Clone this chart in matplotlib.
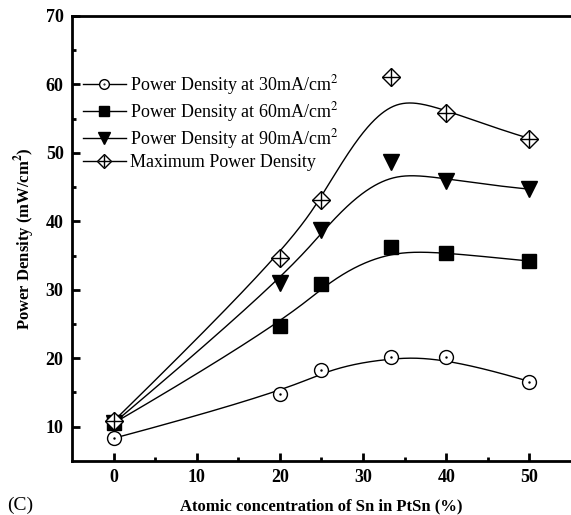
"""Power density vs Sn content in PtSn, panel (C)."""

import matplotlib

matplotlib.use("Agg")
import matplotlib.pyplot as plt
import numpy as np

SN_PCT = [0, 20, 25, 33.3, 40, 50]
PD_30 = [8.3, 14.8, 18.3, 20.2, 20.2, 16.6]
PD_60 = [10.5, 24.7, 30.8, 36.3, 35.4, 34.2]
PD_90 = [10.5, 31.0, 38.7, 48.7, 45.9, 44.7]
PD_MAX = [10.8, 34.6, 43.1, 61.1, 55.8, 52.1]

LABELS = [
    "Power Density at 30mA/cm$^2$",
    "Power Density at 60mA/cm$^2$",
    "Power Density at 90mA/cm$^2$",
    "Maximum Power Density",
]

plt.rcParams["font.family"] = ["Liberation Serif", "DejaVu Serif"]
plt.rcParams["mathtext.fontset"] = "stix"


def bspline(xs, ys, n=300, k=3):
    """Clamped uniform B-spline using the points as control points."""
    pts = np.column_stack([xs, ys]).astype(float)
    m = len(pts)
    inner = np.linspace(0, 1, m - k + 1)
    knots = np.concatenate([[0] * k, inner, [1] * k])
    out = []
    for t in np.linspace(0, 1 - 1e-9, n):
        j = np.searchsorted(knots, t, side="right") - 1
        j = min(max(j, k), m - 1)
        d = [pts[j - k + i].copy() for i in range(k + 1)]
        for r in range(1, k + 1):
            for i in range(k, r - 1, -1):
                idx = i + j - k
                a = (t - knots[idx]) / (knots[idx + k + 1 - r] - knots[idx])
                d[i] = (1 - a) * d[i - 1] + a * d[i]
        out.append(d[k])
    out.append(pts[-1])
    out = np.array(out)
    return out[:, 0], out[:, 1]


fig = plt.figure(figsize=(5.71, 5.15), dpi=100)
ax = fig.add_axes([0.126, 0.105, 0.874, 0.864])

for ys in [PD_30, PD_60, PD_90, PD_MAX]:
    cx, cy = bspline(SN_PCT, ys)
    ax.plot(cx, cy, color="black", lw=1.0, zorder=2)

ax.plot(SN_PCT, PD_30, ls="none", marker="o", ms=10, mfc="white",
        mec="black", mew=1.0, zorder=3)
ax.plot(SN_PCT, PD_30, ls="none", marker=".", ms=1.5, color="black", zorder=4)
ax.plot(SN_PCT, PD_60, ls="none", marker="s", ms=9.5, color="black", zorder=3)
ax.plot(SN_PCT, PD_90, ls="none", marker="v", ms=11, color="black", zorder=3)
ax.plot(SN_PCT, PD_MAX, ls="none", marker="D", ms=9.5, mfc="white",
        mec="black", mew=1.0, zorder=3)
ax.plot(SN_PCT, PD_MAX, ls="none", marker="+", ms=13, mew=1.0, color="black",
        zorder=4)

# legend handles: line + marker
lw = dict(color="black", lw=1.0)
leg_30 = (plt.Line2D([], [], marker="o", ms=7, mfc="white", mec="black", **lw),
          plt.Line2D([], [], ls="none", marker=".", ms=1, color="black"))
leg_60 = plt.Line2D([], [], marker="s", ms=7, mfc="black", mec="black", **lw)
leg_90 = plt.Line2D([], [], marker="v", ms=8, mfc="black", mec="black", **lw)
leg_max = (plt.Line2D([], [], marker="D", ms=7, mfc="white", mec="black", **lw),
           plt.Line2D([], [], ls="none", marker="+", ms=9, color="black"))
ax.legend([leg_30, leg_60, leg_90, leg_max], LABELS, loc="upper left",
          bbox_to_anchor=(0.0, 0.896), frameon=False, fontsize=13,
          handlelength=2.4, handletextpad=0.2, labelspacing=0.17,
          borderaxespad=0.2)

ax.set_xlim(-5, 55)
ax.set_ylim(5, 70)
ax.set_xticks([0, 10, 20, 30, 40, 50])
ax.set_xticks([5, 15, 25, 35, 45], minor=True)
ax.set_yticks([10, 20, 30, 40, 50, 60, 70])
ax.set_yticks([15, 25, 35, 45, 55, 65], minor=True)
ax.tick_params(direction="in", width=2, length=6, labelsize=13, pad=6)
ax.tick_params(which="minor", direction="in", width=2, length=3)
for lab in ax.get_xticklabels() + ax.get_yticklabels():
    lab.set_fontweight("bold")

for side in ["left", "bottom", "top"]:
    ax.spines[side].set_linewidth(2)
ax.spines["right"].set_visible(False)

ax.set_xlabel("Atomic concentration of Sn in PtSn (%)", fontsize=12,
              fontweight="bold", labelpad=9)
ax.set_ylabel(r"Power Density (mW/cm$^{\mathbf{2}}$)", fontsize=12,
              fontweight="bold", labelpad=6)
fig.text(0.012, 0.018, "(C)", fontsize=14, va="center")

fig.savefig("out.png", dpi=100)
